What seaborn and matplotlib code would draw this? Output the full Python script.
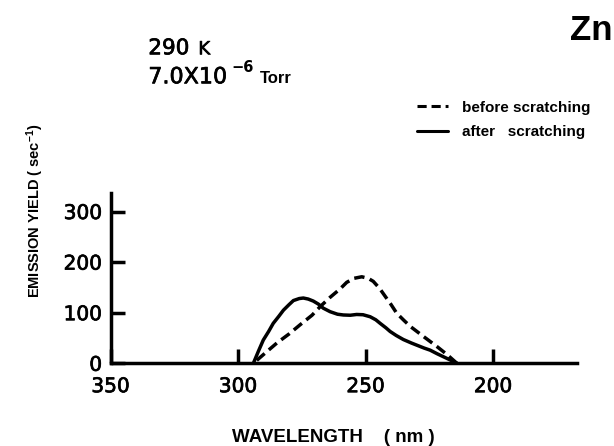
import matplotlib
matplotlib.use("Agg")
import matplotlib.pyplot as plt
import matplotlib.patheffects as pe
import seaborn as sns
import pandas as pd

# ---- data ----
before_wl = [294, 288.5, 284.8, 280, 275.7, 271, 267.8, 264, 260, 257.4, 254.5, 251.5,
             249, 247, 244.5, 242.4, 240, 237.8, 235, 232.5, 227.3, 222, 218, 214.2]
before_y = [0, 24, 40, 58, 76, 95, 112, 130, 147, 160, 168, 171,
            168, 162, 148, 133, 116, 99, 85, 73, 53, 33, 17, 0]

after_wl = [294, 292, 290.1, 288, 286.2, 284, 282.2, 280, 278.3, 276, 274.4, 272.5,
            270.5, 268.5, 266.6, 263.9, 261, 258.7, 256, 253.5, 251, 248.2, 246,
            244.3, 242, 240.4, 238, 235.2, 232, 230, 227, 224.7, 222, 219.5, 217, 214.2]
after_y = [0, 24, 46, 63, 79, 93, 105, 116, 124, 128, 129, 127,
           123, 117, 109, 102, 97, 95.5, 95, 96.5, 96, 92, 86,
           79, 70, 63, 55, 47, 40, 36, 30, 26, 19, 13, 7, 0]

labels = ["before scratching", "after   scratching"]
x_ticks = [350, 300, 250, 200]
y_ticks = [0, 100, 200, 300]

df = pd.concat([
    pd.DataFrame({"wavelength": before_wl, "yield": before_y, "condition": labels[0]}),
    pd.DataFrame({"wavelength": after_wl, "yield": after_y, "condition": labels[1]}),
], ignore_index=True)

sns.set_style("ticks")
plt.rcParams["font.family"] = ["Liberation Sans", "DejaVu Sans"]
plt.rcParams["mathtext.fontset"] = "custom"
plt.rcParams["mathtext.rm"] = "Liberation Sans:bold"
plt.rcParams["mathtext.it"] = "Liberation Sans:bold"
plt.rcParams["mathtext.bf"] = "Liberation Sans:bold"
for k in ["text.color", "axes.labelcolor", "xtick.color", "ytick.color", "axes.edgecolor"]:
    plt.rcParams[k] = "black"

W, H = 614, 446
fig = plt.figure(figsize=(W / 100, H / 100), dpi=100)
ax = fig.add_axes([110.5 / W, 82.7 / H, (577.3 - 110.5) / W, 170 / H])

sns.lineplot(data=df, x="wavelength", y="yield", hue="condition", style="condition",
             palette={labels[0]: "black", labels[1]: "black"},
             dashes={labels[0]: (3, 1.6), labels[1]: ""},
             linewidth=2.5, estimator=None, sort=True, ax=ax)

medium = [pe.withStroke(linewidth=0.5, foreground="black")]

ax.set_xlim(350, 167)
ax.set_ylim(0, 336)
ax.set_xticks(x_ticks)
ax.set_yticks(y_ticks)
ax.set_xticklabels([str(v) for v in x_ticks], family="DejaVu Sans")
ax.set_yticklabels([str(v) for v in y_ticks], family="DejaVu Sans")
ax.tick_params(direction="in", length=10, width=2.5, labelsize=14.5, color="black")
ax.tick_params(axis="x", pad=10.0)
ax.tick_params(axis="y", pad=6.0)
for t in ax.get_xticklabels() + ax.get_yticklabels():
    t.set_path_effects(medium)
for s in ["top", "right"]:
    ax.spines[s].set_visible(False)
for s in ["left", "bottom"]:
    ax.spines[s].set_linewidth(2.5)
    ax.spines[s].set_color("black")

ax.set_xlabel("WAVELENGTH    ( nm )", fontsize=13.5, fontweight="bold")
ax.xaxis.set_label_coords((333.5 - 110.5) / 467, (363.3 - 429) / 170)
ax.set_ylabel("EMISSION YIELD ( sec$^{-1}$)", fontsize=10.5, fontweight="bold")
ax.yaxis.set_label_coords((46 - 110.5) / 467, (363.3 - 211) / 170)

handles, labs = ax.get_legend_handles_labels()
leg = ax.legend(handles, labs, loc="center left",
                bbox_to_anchor=(416.7 / W, 1 - 120 / H), bbox_transform=fig.transFigure,
                frameon=False, borderaxespad=0, borderpad=0, handlelength=2.07,
                handletextpad=0.88, labelspacing=0.7,
                prop={"family": "Liberation Sans", "weight": "bold", "size": 11})
for ln in leg.get_lines():
    ln.set_linewidth(2.2)

def ftext(x, y, s, **kw):
    fig.text(x / W, 1 - y / H, s, **kw)

ftext(570, 40, "Zn", fontsize=25, fontweight="bold", va="baseline", ha="left")
ftext(148.3, 54.3, "290", fontsize=15.5, family="DejaVu Sans", va="baseline", path_effects=medium)
ftext(198.3, 54.3, "K", fontsize=13, family="DejaVu Sans", va="baseline", path_effects=medium)
ftext(148.3, 83.3, "7.0X10", fontsize=16, family="DejaVu Sans", va="baseline", path_effects=medium)
ftext(231.7, 60.5, "\u22126", fontsize=10.5, family="DejaVu Sans", fontweight="bold", va="top")
ftext(260, 83.3, "Torr", fontsize=12, fontweight="bold", va="baseline")

fig.savefig("out.png", dpi=100)
